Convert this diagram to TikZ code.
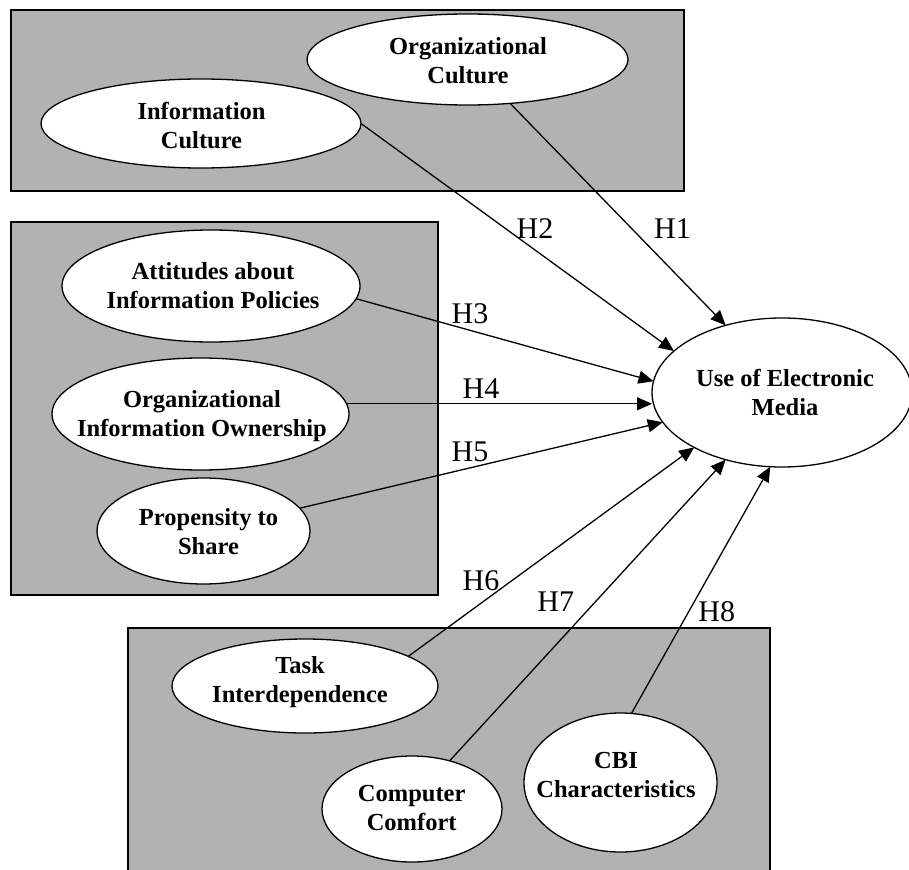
\documentclass[tikz,border=0pt]{standalone}
\usepackage{fontspec}
\setmainfont{Liberation Serif}
\usetikzlibrary{shapes.geometric,arrows.meta}
\definecolor{boxgray}{RGB}{178,178,178}
\newcommand\twol[2]{\strut#1\\#2\strut}
\begin{document}
\begin{tikzpicture}[x=1pt,y=-1pt,
  panel/.style={draw=black, fill=boxgray, line width=1.6pt},
  oval/.style={ellipse, draw=black, fill=white, line width=1.3pt, inner sep=0pt, outer sep=0pt},
  ovtext/.style={align=center, inner sep=0pt, font=\fontsize{24.5}{29}\selectfont\bfseries},
  hlabel/.style={anchor=base, inner sep=0pt, font=\fontsize{30}{36}\selectfont},
  hyp/.style={-{Triangle[length=15pt,width=13pt]}, line width=1.3pt}]
\useasboundingbox (0,0) rectangle (909,869);
\fill[white] (0,0) rectangle (909,869);

% grey panels
\path[panel] (11,10) rectangle (684,191);
\path[panel] (11,222) rectangle (438,595);
\path[panel] (128,628) rectangle (770,885);

% ellipses
\node[oval, minimum width=321pt, minimum height=91pt] (orgc) at (467.5,59.5) {};
\node[oval, minimum width=320pt, minimum height=89pt] (infoc) at (201,123.5) {};
\node[oval, minimum width=298pt, minimum height=112pt] (att) at (211,286) {};
\node[oval, minimum width=297pt, minimum height=112pt] (oio) at (200.5,414) {};
\node[oval, minimum width=213pt, minimum height=106pt] (prop) at (203.5,531) {};
\node[oval, minimum width=260pt, minimum height=149pt] (use) at (782,392.5) {};
\node[oval, minimum width=266pt, minimum height=94pt] (task) at (305,686) {};
\node[oval, minimum width=180pt, minimum height=106pt] (comp) at (412,809) {};
\node[oval, minimum width=193pt, minimum height=139pt] (cbi) at (620.5,782.5) {};

% ellipse texts
\node[ovtext] (orgct) at (468,63.7) {\twol{Organizational}{Culture}};
\node[ovtext] (infoct) at (201.5,128.4) {\twol{Information}{Culture}};
\node[ovtext] (attt) at (213,287.9) {\twol{Attitudes about}{Information Policies}};
\node[ovtext] (oiot) at (202,416.4) {\twol{Organizational}{Information Ownership}};
\node[ovtext] (propt) at (208.5,533.7) {\twol{Propensity to}{Share}};
\node[ovtext] (uset) at (785,395.4) {\twol{Use of Electronic}{Media}};
\node[ovtext] (taskt) at (300,682.2) {\twol{Task}{Interdependence}};
\node[ovtext] (compt) at (411.7,809.9) {\twol{Computer}{Comfort}};
\node[ovtext] (cbit) at (616,777.5) {\twol{CBI}{Characteristics}};

% hypotheses arrows
\draw[hyp] (orgc) -- (use.130);
\draw[hyp] (infoc.east) -- (use.159);
\draw[hyp] (att.-5) -- (use.175.6);
\draw[hyp] (oio.4) -- (oio.4 -| use.west);
\draw[hyp] (prop) -- (use.194);
\draw[hyp] (task.16) -- (use.212);
\draw[hyp] (comp.52) -- (use.230);
\draw[hyp] (cbi.81) -- (use.261);

% labels
\node[hlabel] (h1) at (672.5,238.3) {H1};
\node[hlabel] (h2) at (535,238.3) {H2};
\node[hlabel] (h3) at (470,323) {H3};
\node[hlabel] (h4) at (481,398) {H4};
\node[hlabel] (h5) at (470,461.7) {H5};
\node[hlabel] (h6) at (481,590) {H6};
\node[hlabel] (h7) at (555.7,611.7) {H7};
\node[hlabel] (h8) at (716.7,621.7) {H8};
\end{tikzpicture}
\end{document}
